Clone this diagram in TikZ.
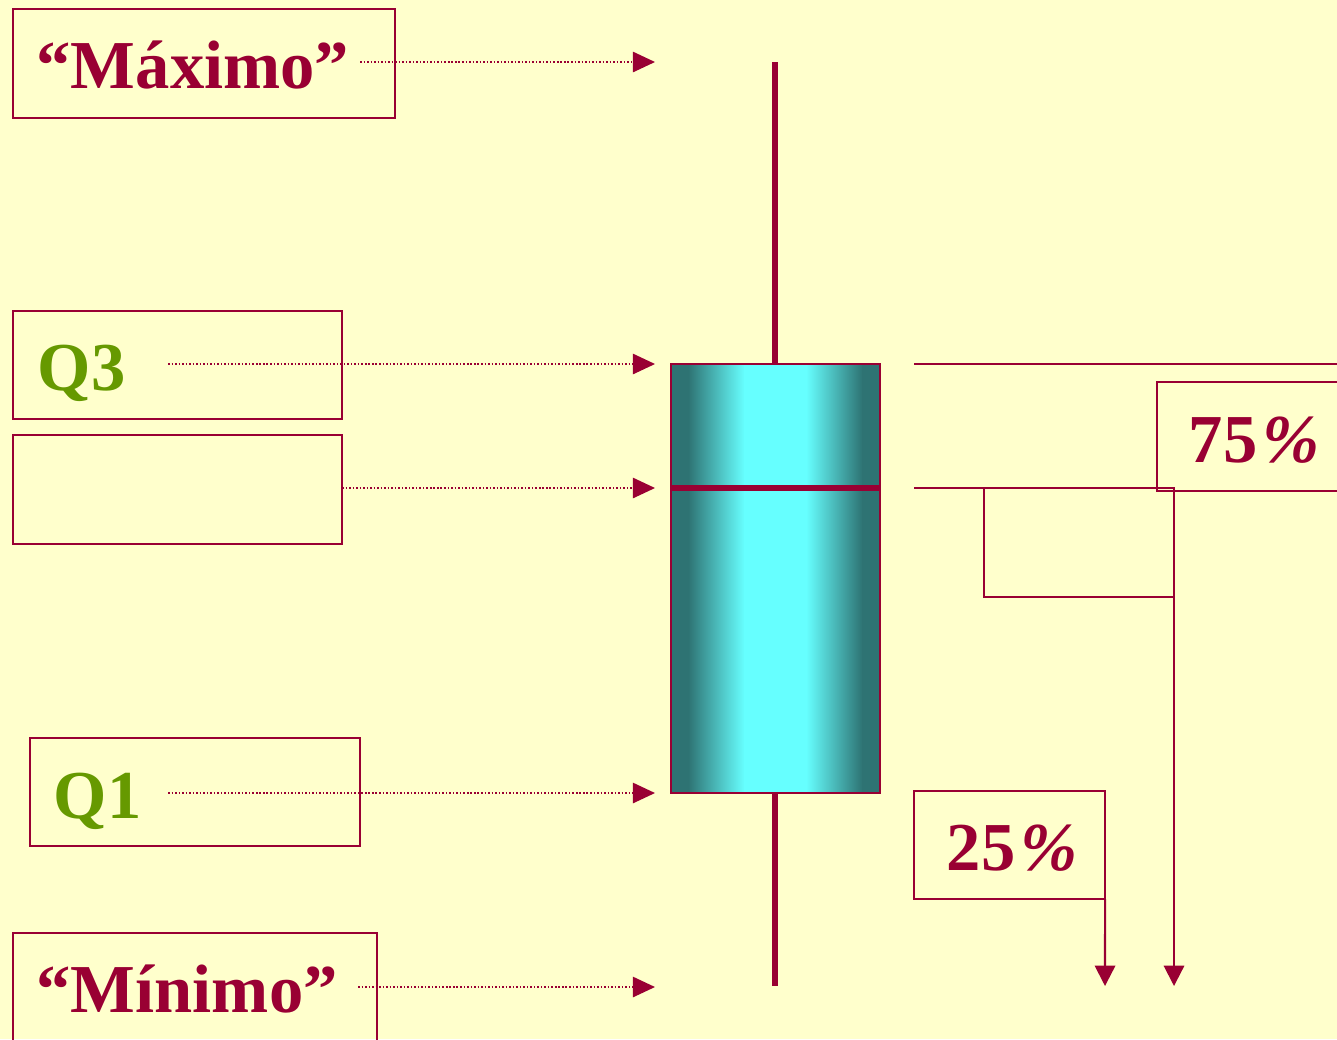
\documentclass[tikz,border=0pt]{standalone}
\usepackage{fontspec}
\setmainfont{Liberation Serif}
\usetikzlibrary{arrows.meta}
\definecolor{bg}{HTML}{FFFFCC}
\definecolor{mar}{HTML}{990033}
\definecolor{grn}{HTML}{669900}
\definecolor{tdark}{HTML}{2E7373}
\definecolor{tlight}{HTML}{66FFFF}
\begin{document}
\begin{tikzpicture}[x=0.01cm,y=-0.01cm,
  frame/.style={draw=mar,line width=0.6pt,rectangle,inner sep=0pt,outer sep=0pt},
  lbl/.style={inner sep=0pt,anchor=base west,text=mar,font=\fontsize{19.5}{24}\selectfont\bfseries},
  qlbl/.style={lbl,text=grn},
  dotarrow/.style={draw=mar,line width=0.45pt,dash pattern=on 0.45pt off 0.55pt,-{Triangle[length=6.3pt,width=5.8pt]}},
  downarrow/.style={draw=mar,line width=0.6pt,-{Triangle[length=5.8pt,width=5.8pt]}},
  thinline/.style={draw=mar,line width=0.6pt},
  thick line/.style={draw=mar,line width=1.6pt}]
\useasboundingbox (0,0) rectangle (1337,1039);
\fill[bg] (0,0) rectangle (1337,1039);

% label boxes
\node[frame,minimum width=3.82cm,minimum height=1.09cm] (bmax) at (204,63.5) {};
\node[frame,minimum width=3.29cm,minimum height=1.08cm] (bq3) at (177.5,365) {};
\node[frame,minimum width=3.29cm,minimum height=1.09cm] (bmed) at (177.5,489.5) {};
\node[frame,minimum width=3.30cm,minimum height=1.08cm] (bq1) at (195,792) {};
\node[frame,minimum width=3.64cm,minimum height=1.10cm] (bmin) at (195,988) {};
\node[frame,minimum width=1.88cm,minimum height=1.09cm] (b75) at (1251,436.5) {};
\node[frame,minimum width=1.90cm,minimum height=1.09cm] (bsmall) at (1079,542.5) {};
\node[frame,minimum width=1.91cm,minimum height=1.08cm] (b25) at (1009.5,845) {};

% texts
\node[lbl] (tmax) at (36,88) {“Máximo”};
\node[qlbl] (tq3) at (37,390) {Q3};
\node[qlbl] (tq1) at (53,818) {Q1};
\node[lbl] (tmin) at (36,1012) {“Mínimo”};
\node[lbl] (t75) at (1188,462) {75\kern0.08em\textit{\%}};
\node[lbl] (t25) at (946,870) {25\kern0.08em\textit{\%}};

% arrow coordinates
\coordinate (smax) at (360,62);   \coordinate (emax) at (655,62);
\coordinate (sq3) at (168,364);   \coordinate (eq3) at (655,364);
\coordinate (smed) at (342,488);  \coordinate (emed) at (655,488);
\coordinate (sq1) at (168,793);   \coordinate (eq1) at (655,793);
\coordinate (smin) at (358,987);  \coordinate (emin) at (655,987);

\draw[dotarrow] (smax) -- (emax);
\draw[dotarrow] (sq3) -- (eq3);
\draw[dotarrow] (smed) -- (emed);
\draw[dotarrow] (sq1) -- (eq1);
\draw[dotarrow] (smin) -- (emin);

% box plot
\coordinate (wtop) at (775,62);
\coordinate (wq3) at (775,364);
\coordinate (wq1) at (775,793);
\coordinate (wbot) at (775,986);
\draw[thick line] (wtop) -- (wq3);
\draw[thick line] (wq1) -- (wbot);
\fill[tdark] (671,364) rectangle (688.5,793);
\shade[left color=tdark,right color=tlight] (688,364) rectangle (744.5,793);
\fill[tlight] (744,364) rectangle (806.5,793);
\shade[left color=tlight,right color=tdark] (806,364) rectangle (862.5,793);
\fill[tdark] (862,364) rectangle (880,793);
\draw[thinline] (671,364) rectangle (880,793);
\coordinate (ml) at (671,488); \coordinate (mr) at (880,488);
\draw[thick line] (ml) -- (mr);

% right side
\coordinate (r1a) at (914,364); \coordinate (r1b) at (1345,364);
\coordinate (r2a) at (914,488); \coordinate (r2b) at (1174,488);
\draw[thinline] (r1a) -- (r1b);
\draw[thinline] (r2a) -- (r2b);
\coordinate (a75) at (1174,986);
\coordinate (a25) at (1105,986);
\draw[downarrow] (r2b) -- (a75);
\draw[downarrow] (b25.south east) -- (a25);
\end{tikzpicture}
\end{document}
